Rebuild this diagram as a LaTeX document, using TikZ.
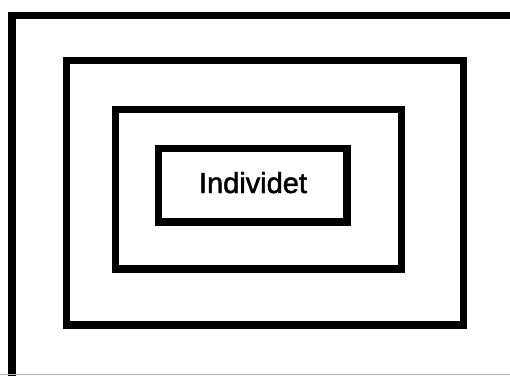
\documentclass[tikz,border=0pt]{standalone}
\usepackage{fontspec}
\setmainfont{Liberation Sans}
\newfontfamily\lblfont[FakeBold=1.6]{Liberation Sans}
\begin{document}
\begin{tikzpicture}[x=1pt,y=-1pt,
  frame/.style={draw=black,line width=7.5pt,line join=miter},
  lbl/.style={font=\lblfont\fontsize{29}{31}\selectfont,anchor=base,inner sep=0pt}]
\useasboundingbox (0,0) rectangle (510,376);
\fill[white] (0,0) rectangle (510,376);
% outer frame (cut off at right and bottom)
\coordinate (o1) at (12,376);
\coordinate (o2) at (12,15.5);
\coordinate (o3) at (510,15.5);
\draw[frame] (o1) -- (o2) -- (o3);
\coordinate (b1) at (0,374.5);
\coordinate (b2) at (510,374.5);
\draw[gray!60,line width=1pt] (b1) -- (b2);
% nested frames
\draw[frame] (66.5,60.5) rectangle (463.5,325);
\draw[frame] (115.5,109.5) rectangle (401.5,269);
\draw[frame] (158.5,148.5) rectangle (347,222);
\node[lbl] (t) at (253,193) {Individet};
\end{tikzpicture}
\end{document}
